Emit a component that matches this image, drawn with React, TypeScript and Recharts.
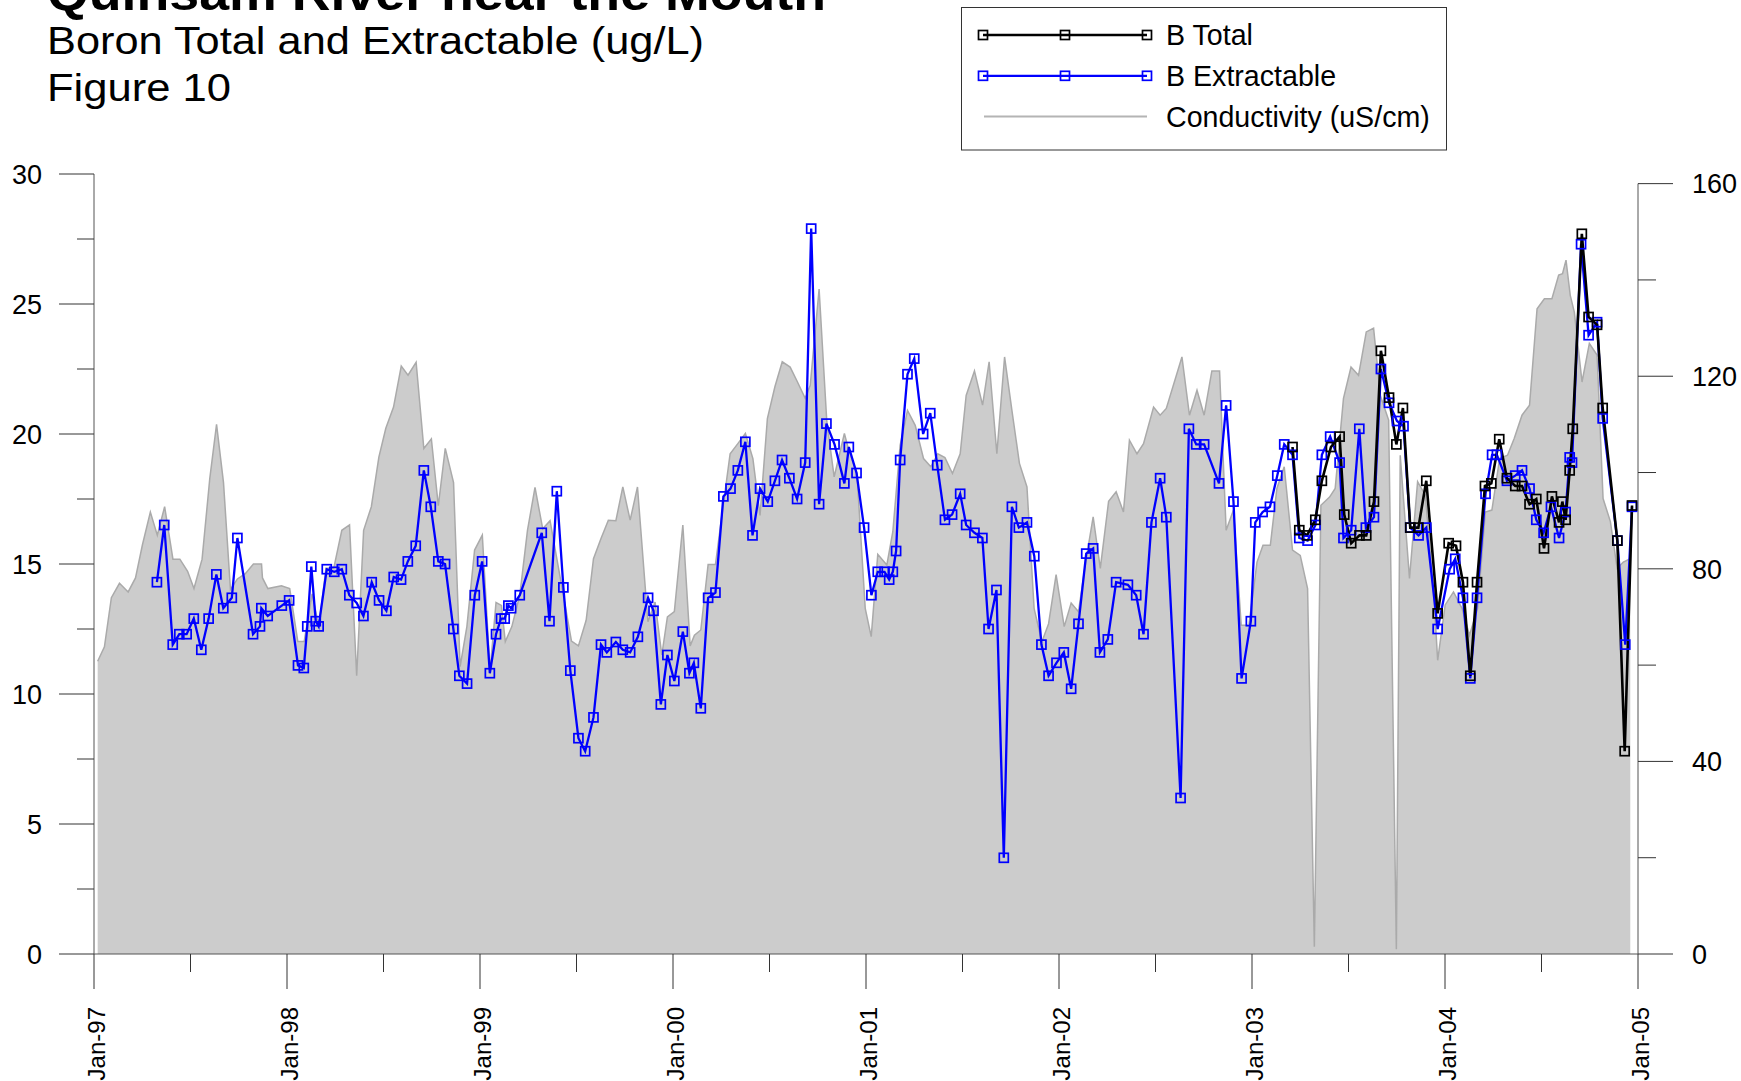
import React from "react";
import { ComposedChart, Line, Area, XAxis, YAxis, ReferenceLine } from "recharts";

// B Extractable (ug/L): [decimal year, value]
const extractable: [number, number][] = [
  [1997.326, 14.3], [1997.364, 16.5], [1997.408, 11.9], [1997.442, 12.3], [1997.48, 12.3],
  [1997.517, 12.9], [1997.556, 11.7], [1997.594, 12.9], [1997.634, 14.6], [1997.67, 13.3],
  [1997.714, 13.7], [1997.743, 16.0], [1997.824, 12.3], [1997.86, 12.6], [1997.867, 13.3],
  [1997.9, 13.0], [1997.973, 13.4], [1998.011, 13.6], [1998.057, 11.1], [1998.087, 11.0],
  [1998.105, 12.6], [1998.126, 14.9], [1998.149, 12.8], [1998.164, 12.6], [1998.206, 14.8],
  [1998.245, 14.7], [1998.284, 14.8], [1998.323, 13.8], [1998.361, 13.5], [1998.396, 13.0],
  [1998.439, 14.3], [1998.477, 13.6], [1998.515, 13.2], [1998.553, 14.5], [1998.591, 14.4],
  [1998.626, 15.1], [1998.667, 15.7], [1998.709, 18.6], [1998.745, 17.2], [1998.784, 15.1],
  [1998.819, 15.0], [1998.862, 12.5], [1998.893, 10.7], [1998.933, 10.4], [1998.973, 13.8],
  [1999.011, 15.1], [1999.051, 10.8], [1999.083, 12.3], [1999.109, 12.9], [1999.128, 12.9],
  [1999.147, 13.4], [1999.161, 13.3], [1999.206, 13.8], [1999.32, 16.2], [1999.36, 12.8],
  [1999.398, 17.8], [1999.432, 14.1], [1999.468, 10.9], [1999.51, 8.3], [1999.545, 7.8],
  [1999.588, 9.1], [1999.627, 11.9], [1999.657, 11.6], [1999.704, 12.0], [1999.74, 11.7],
  [1999.778, 11.6], [1999.818, 12.2], [1999.871, 13.7], [1999.899, 13.2], [1999.937, 9.6],
  [1999.971, 11.5], [2000.007, 10.5], [2000.051, 12.4], [2000.085, 10.8], [2000.108, 11.2],
  [2000.144, 9.45], [2000.182, 13.7], [2000.22, 13.9], [2000.261, 17.6], [2000.298, 17.9],
  [2000.336, 18.6], [2000.375, 19.7], [2000.412, 16.1], [2000.451, 17.9], [2000.491, 17.4],
  [2000.528, 18.2], [2000.565, 19.0], [2000.603, 18.3], [2000.643, 17.5], [2000.685, 18.9],
  [2000.716, 27.9], [2000.757, 17.3], [2000.795, 20.4], [2000.837, 19.6], [2000.888, 18.1],
  [2000.911, 19.5], [2000.951, 18.5], [2000.99, 16.4], [2001.028, 13.8], [2001.061, 14.7],
  [2001.096, 14.7], [2001.12, 14.4], [2001.139, 14.7], [2001.156, 15.5], [2001.177, 19.0],
  [2001.215, 22.3], [2001.25, 22.9], [2001.296, 20.0], [2001.333, 20.8], [2001.369, 18.8],
  [2001.409, 16.7], [2001.446, 16.9], [2001.488, 17.7], [2001.519, 16.5], [2001.562, 16.2],
  [2001.603, 16.0], [2001.635, 12.5], [2001.676, 14.0], [2001.714, 3.7], [2001.756, 17.2],
  [2001.792, 16.4], [2001.834, 16.6], [2001.872, 15.3], [2001.909, 11.9], [2001.946, 10.7],
  [2001.987, 11.2], [2002.025, 11.6], [2002.063, 10.2], [2002.101, 12.7], [2002.141, 15.4],
  [2002.177, 15.6], [2002.212, 11.6], [2002.253, 12.1], [2002.296, 14.3], [2002.357, 14.2],
  [2002.4, 13.8], [2002.438, 12.3], [2002.479, 16.6], [2002.524, 18.3], [2002.556, 16.8],
  [2002.63, 6.0], [2002.673, 20.2], [2002.711, 19.6], [2002.752, 19.6], [2002.829, 18.1],
  [2002.866, 21.1], [2002.904, 17.4], [2002.946, 10.6], [2002.994, 12.8], [2003.017, 16.6],
  [2003.055, 17.0], [2003.093, 17.2], [2003.131, 18.4], [2003.167, 19.6], [2003.21, 19.2],
  [2003.245, 16.0], [2003.288, 15.9], [2003.329, 16.5], [2003.362, 19.2], [2003.405, 19.9],
  [2003.454, 18.9], [2003.474, 16.0], [2003.514, 16.3], [2003.556, 20.2], [2003.59, 16.4],
  [2003.632, 16.8], [2003.668, 22.5], [2003.71, 21.2], [2003.751, 20.5], [2003.785, 20.3],
  [2003.82, 16.4], [2003.863, 16.1], [2003.903, 16.4], [2003.962, 12.5], [2004.024, 14.8],
  [2004.053, 15.2], [2004.093, 13.7], [2004.131, 10.6], [2004.166, 13.7], [2004.21, 17.7],
  [2004.244, 19.2], [2004.269, 19.2], [2004.321, 18.2], [2004.364, 18.4], [2004.399, 18.6],
  [2004.438, 17.9], [2004.473, 16.7], [2004.511, 16.2], [2004.549, 17.2], [2004.591, 16.0],
  [2004.625, 17.0], [2004.646, 19.1], [2004.658, 18.9], [2004.705, 27.3], [2004.744, 23.8],
  [2004.788, 24.3], [2004.817, 20.6], [2004.893, 15.9], [2004.934, 11.9], [2004.969, 17.2],
];

// B Total (ug/L)
const total: [number, number][] = [
  [2003.21, 19.5], [2003.245, 16.3], [2003.285, 16.1], [2003.328, 16.7], [2003.362, 18.2],
  [2003.409, 19.5], [2003.454, 19.9], [2003.478, 16.9], [2003.514, 15.8], [2003.557, 16.1],
  [2003.592, 16.1], [2003.632, 17.4], [2003.668, 23.2], [2003.71, 21.4], [2003.748, 19.6],
  [2003.782, 21.0], [2003.82, 16.4], [2003.862, 16.4], [2003.903, 18.2], [2003.962, 13.1],
  [2004.019, 15.8], [2004.057, 15.7], [2004.093, 14.3], [2004.131, 10.7], [2004.166, 14.3],
  [2004.207, 18.0], [2004.24, 18.1], [2004.281, 19.8], [2004.321, 18.3], [2004.364, 18.0],
  [2004.399, 18.0], [2004.438, 17.3], [2004.473, 17.5], [2004.513, 15.6], [2004.554, 17.6],
  [2004.591, 16.6], [2004.608, 17.4], [2004.625, 16.7], [2004.646, 18.6], [2004.662, 20.2],
  [2004.709, 27.7], [2004.744, 24.5], [2004.788, 24.2], [2004.817, 21.0], [2004.893, 15.9],
  [2004.931, 7.8], [2004.969, 17.25],
];

// Conductivity (uS/cm), right axis
const conductivity: [number, number][] = [
  [1997.019, 60.8], [1997.054, 63.8], [1997.09, 74.0], [1997.132, 77.0], [1997.177, 75.2],
  [1997.215, 78.1], [1997.251, 85.0], [1997.292, 91.8], [1997.328, 87.0], [1997.366, 92.9],
  [1997.409, 82.0], [1997.445, 82.0], [1997.485, 79.5], [1997.518, 75.9], [1997.56, 82.0],
  [1997.6, 98.8], [1997.635, 110.0], [1997.671, 97.9], [1997.707, 75.7], [1997.743, 77.9],
  [1997.784, 79.0], [1997.826, 81.0], [1997.868, 81.0], [1997.873, 78.1], [1997.901, 75.9],
  [1997.971, 76.5], [1998.014, 75.9], [1998.056, 64.9], [1998.089, 64.9], [1998.13, 74.8],
  [1998.165, 68.0], [1998.202, 80.1], [1998.242, 80.1], [1998.284, 88.0], [1998.324, 89.1],
  [1998.361, 57.8], [1998.397, 88.0], [1998.437, 92.9], [1998.476, 103.2], [1998.512, 109.2],
  [1998.552, 113.6], [1998.592, 122.1], [1998.627, 120.2], [1998.669, 122.9], [1998.709, 105.0],
  [1998.748, 107.0], [1998.784, 93.1], [1998.82, 105.0], [1998.863, 97.9], [1998.897, 59.7],
  [1998.932, 68.0], [1998.972, 83.9], [1999.012, 87.0], [1999.052, 58.7], [1999.083, 73.0],
  [1999.111, 72.4], [1999.131, 64.9], [1999.165, 68.0], [1999.206, 74.5], [1999.246, 88.0],
  [1999.285, 96.9], [1999.325, 88.3], [1999.363, 90.0], [1999.432, 74.5], [1999.474, 65.0],
  [1999.51, 64.0], [1999.55, 69.3], [1999.588, 82.1], [1999.627, 86.3], [1999.665, 90.1],
  [1999.704, 90.0], [1999.74, 97.0], [1999.778, 90.1], [1999.816, 97.0], [1999.87, 69.0],
  [1999.907, 73.1], [1999.942, 62.1], [1999.971, 70.0], [2000.007, 71.1], [2000.051, 89.1],
  [2000.089, 64.0], [2000.111, 66.2], [2000.144, 67.3], [2000.182, 80.9], [2000.22, 80.9],
  [2000.258, 92.5], [2000.296, 103.9], [2000.336, 106.0], [2000.375, 108.1], [2000.414, 102.9],
  [2000.451, 91.1], [2000.489, 111.2], [2000.528, 117.8], [2000.566, 123.0], [2000.607, 121.9],
  [2000.645, 118.8], [2000.685, 115.4], [2000.711, 118.1], [2000.757, 138.1], [2000.797, 110.5],
  [2000.835, 99.1], [2000.888, 108.1], [2000.911, 104.6], [2000.953, 99.8], [2000.996, 71.8],
  [2001.027, 65.9], [2001.061, 83.0], [2001.108, 80.8], [2001.139, 87.7], [2001.177, 105.7],
  [2001.215, 112.9], [2001.255, 109.8], [2001.298, 102.9], [2001.336, 101.2], [2001.372, 103.9],
  [2001.409, 103.1], [2001.448, 99.8], [2001.488, 103.9], [2001.519, 116.0], [2001.562, 121.1],
  [2001.604, 114.0], [2001.638, 123.0], [2001.678, 103.9], [2001.718, 124.0], [2001.756, 112.9],
  [2001.795, 101.9], [2001.834, 97.0], [2001.871, 71.8], [2001.911, 64.8], [2001.946, 68.6],
  [2001.985, 78.8], [2002.027, 68.0], [2002.063, 72.9], [2002.101, 71.1], [2002.141, 82.1],
  [2002.177, 90.8], [2002.214, 80.1], [2002.257, 94.0], [2002.296, 96.0], [2002.334, 91.8],
  [2002.365, 106.7], [2002.404, 103.9], [2002.438, 106.0], [2002.49, 113.6], [2002.524, 111.9],
  [2002.556, 113.3], [2002.637, 124.0], [2002.676, 111.9], [2002.715, 117.1], [2002.752, 111.9],
  [2002.792, 121.1], [2002.832, 121.1], [2002.866, 88.0], [2002.904, 92.2], [2002.944, 68.3],
  [2002.984, 68.3], [2003.026, 81.4], [2003.057, 84.9], [2003.095, 84.9], [2003.129, 96.7],
  [2003.167, 101.2], [2003.21, 83.9], [2003.25, 82.8], [2003.288, 75.9], [2003.323, 1.5],
  [2003.357, 93.2], [2003.402, 94.9], [2003.431, 96.7], [2003.474, 115.4], [2003.513, 121.9],
  [2003.552, 120.2], [2003.592, 129.2], [2003.63, 130.0], [2003.665, 116.0], [2003.708, 110.9],
  [2003.748, 1.0], [2003.768, 103.6], [2003.816, 78.0], [2003.858, 98.1], [2003.898, 95.3],
  [2003.941, 75.2], [2003.962, 61.0], [2004.001, 72.5], [2004.044, 75.2], [2004.088, 71.8],
  [2004.127, 66.2], [2004.169, 71.8], [2004.209, 91.8], [2004.243, 92.2], [2004.283, 102.9],
  [2004.324, 103.6], [2004.359, 107.1], [2004.399, 111.9], [2004.438, 114.0], [2004.477, 134.0],
  [2004.515, 136.1], [2004.554, 136.1], [2004.589, 141.0], [2004.609, 141.3], [2004.627, 144.1],
  [2004.649, 136.8], [2004.67, 133.3], [2004.71, 118.8], [2004.748, 126.8], [2004.788, 124.4],
  [2004.819, 94.6], [2004.857, 89.8], [2004.892, 80.1], [2004.924, 81.4], [2004.96, 82.1],
];

const yearTicks = [
  1997, 1997.5, 1998, 1998.5, 1999, 1999.5, 2000, 2000.5, 2001,
  2001.5, 2002, 2002.5, 2003, 2003.5, 2004, 2004.5, 2005,
];
const leftTicks = [0, 2.5, 5, 7.5, 10, 12.5, 15, 17.5, 20, 22.5, 25, 27.5, 30];
const rightTicks = [0, 20, 40, 60, 80, 100, 120, 140, 160];

const legendItems = [
  { label: "B Total", color: "#000000", width: 2.6, marker: true },
  { label: "B Extractable", color: "#0000ff", width: 2.3, marker: true },
  { label: "Conductivity (uS/cm)", color: "#b4b4b4", width: 2, marker: false },
];

const FONT = "'Liberation Sans', Arial, Helvetica, sans-serif";
const TICK_COLOR = "#333";
const MAJOR = 35;
const MINOR = 17;

const extData = extractable.map(([t, v]) => ({ t, v }));
const totalData = total.map(([t, v]) => ({ t, v }));
const condData = conductivity.map(([t, c]) => ({ t, c }));

function squareDot(color: string) {
  return (p: any) => {
    if (p.cx == null || p.cy == null) return <g key={`e-${p.index}`} />;
    return (
      <rect
        key={`d-${color}-${p.index}`}
        x={p.cx - 4.5}
        y={p.cy - 4.5}
        width={9}
        height={9}
        fill="none"
        stroke={color}
        strokeWidth={1.7}
      />
    );
  };
}

function LeftTick(props: any) {
  const { x, y, payload } = props;
  const v = payload.value;
  const major = v % 5 === 0;
  const ax = x + 17 + MAJOR;
  return (
    <g>
      <line x1={ax - (major ? MAJOR : MINOR)} x2={ax} y1={y} y2={y} stroke={TICK_COLOR} />
      {major && (
        <text x={x} y={y} dy="0.36em" textAnchor="end" fontSize={27} fontFamily={FONT} fill="#000">
          {v}
        </text>
      )}
    </g>
  );
}

function RightTick(props: any) {
  const { x, y, payload } = props;
  const v = payload.value;
  const major = v % 40 === 0;
  const ax = x - 19 - MAJOR;
  return (
    <g>
      <line x1={ax} x2={ax + (major ? MAJOR : MINOR + 1)} y1={y} y2={y} stroke={TICK_COLOR} />
      {major && (
        <text x={x} y={y} dy="0.36em" textAnchor="start" fontSize={27} fontFamily={FONT} fill="#000">
          {v}
        </text>
      )}
    </g>
  );
}

function XTick(props: any) {
  const { x, y, payload } = props;
  const v = payload.value;
  const major = Number.isInteger(v);
  const ay = y - 18 - MAJOR;
  return (
    <g>
      <line x1={x} x2={x} y1={ay} y2={ay + (major ? MAJOR : MINOR + 1)} stroke={TICK_COLOR} />
      {major && (
        <text
          transform={`translate(${x + 2},${y}) rotate(-90)`}
          dy="0.36em"
          textAnchor="end"
          fontSize={24}
          fontFamily={FONT}
          fill="#000"
        >
          {`Jan-${String(v).slice(2)}`}
        </text>
      )}
    </g>
  );
}

function Overlay() {
  return (
    <svg
      width={1741}
      height={1081}
      style={{ position: "absolute", left: 0, top: 0, pointerEvents: "none" }}
      fontFamily={FONT}
    >
      {/* main title sits partly above the page edge, as in the original */}
      <text x={47} y={10} fontSize={48} fontWeight="bold" textLength={779} lengthAdjust="spacingAndGlyphs">
        Quinsam River near the Mouth
      </text>
      <text x={47} y={54} fontSize={38} textLength={657} lengthAdjust="spacingAndGlyphs">
        Boron Total and Extractable (ug/L)
      </text>
      <text x={47} y={101} fontSize={38} textLength={184} lengthAdjust="spacingAndGlyphs">
        Figure 10
      </text>

      <rect x={961.5} y={7.5} width={485} height={142.5} fill="#fff" stroke="#333" strokeWidth={1} />
      {legendItems.map((item, i) => {
        const ly = 35 + i * 40.8;
        return (
          <g key={item.label}>
            <line
              x1={item.marker ? 983 : 984}
              x2={1147}
              y1={ly}
              y2={ly}
              stroke={item.color}
              strokeWidth={item.width}
            />
            {item.marker &&
              [983, 1065, 1147].map((mx) => (
                <rect
                  key={mx}
                  x={mx - 4.5}
                  y={ly - 4.5}
                  width={9}
                  height={9}
                  fill="none"
                  stroke={item.color}
                  strokeWidth={1.7}
                />
              ))}
            <text x={1166} y={ly + 10} fontSize={28.6} fill="#000">
              {item.label}
            </text>
          </g>
        );
      })}
    </svg>
  );
}

export default function App() {
  return (
    <div style={{ position: "relative", width: 1741, height: 1081, overflow: "hidden", background: "#fff" }}>
      <style>{"body{margin:0}"}</style>
      <ComposedChart width={1741} height={1081} margin={{ top: 174, right: 0, bottom: 0, left: 0 }}>
        <XAxis
          type="number"
          dataKey="t"
          domain={[1997, 2005]}
          ticks={yearTicks}
          interval={0}
          height={127}
          tickSize={MAJOR}
          tickMargin={18}
          tickLine={false}
          axisLine={{ stroke: "#555" }}
          tick={(p: any) => <XTick {...p} />}
          allowDataOverflow
        />
        <YAxis
          yAxisId="left"
          orientation="left"
          type="number"
          domain={[0, 30]}
          ticks={leftTicks}
          interval={0}
          width={94}
          tickSize={MAJOR}
          tickMargin={17}
          tickLine={false}
          axisLine={{ stroke: "#555" }}
          tick={(p: any) => <LeftTick {...p} />}
          allowDataOverflow
        />
        <YAxis
          yAxisId="right"
          orientation="right"
          type="number"
          domain={[0, 162]}
          ticks={rightTicks}
          interval={0}
          width={103}
          tickSize={MAJOR}
          tickMargin={19}
          tickLine={false}
          axisLine={false}
          tick={(p: any) => <RightTick {...p} />}
          allowDataOverflow
        />
        <Area
          yAxisId="right"
          data={condData}
          dataKey="c"
          type="linear"
          fill="#cccccc"
          fillOpacity={1}
          stroke="#aaaaaa"
          strokeWidth={1.5}
          dot={false}
          activeDot={false}
          isAnimationActive={false}
        />
        <ReferenceLine
          yAxisId="right"
          segment={[
            { x: 2005, y: 0 },
            { x: 2005, y: 160 },
          ]}
          stroke="#555"
          ifOverflow="visible"
        />
        <Line
          yAxisId="left"
          data={extData}
          dataKey="v"
          type="linear"
          stroke="#0000ff"
          strokeWidth={2.3}
          dot={squareDot("#0000ff")}
          activeDot={false}
          isAnimationActive={false}
        />
        <Line
          yAxisId="left"
          data={totalData}
          dataKey="v"
          type="linear"
          stroke="#000000"
          strokeWidth={2.6}
          dot={squareDot("#000000")}
          activeDot={false}
          isAnimationActive={false}
        />
      </ComposedChart>
      <Overlay />
    </div>
  );
}
